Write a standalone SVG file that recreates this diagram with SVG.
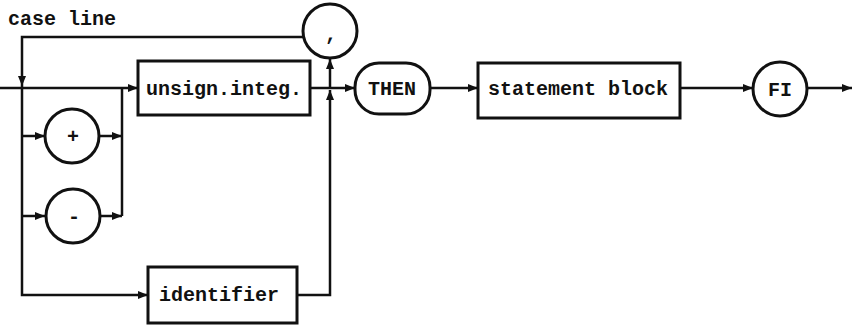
<svg xmlns="http://www.w3.org/2000/svg" width="858" height="329" viewBox="0 0 858 329">
<style>
.ln{fill:none;stroke:#111;stroke-width:2.5}
.nd{fill:#fff;stroke:#111;stroke-width:3}
.t{font-family:"Liberation Mono","DejaVu Sans Mono",monospace;font-weight:bold;font-size:20px;fill:#111}
.m{text-anchor:middle}
</style>
<defs>
<marker id="a" markerUnits="userSpaceOnUse" markerWidth="12" markerHeight="10" refX="10" refY="5" orient="auto">
<path d="M0 1 L10 5 L0 9 Z" fill="#111"/>
</marker>
</defs>
<rect width="858" height="329" fill="#fff"/>
<text class="t" x="8" y="25">case line</text>
<g id="connectors">
<path class="ln" d="M0 88 H138" marker-end="url(#a)"/>
<path class="ln" d="M310 88 H355" marker-end="url(#a)"/>
<path class="ln" d="M430 88 H478" marker-end="url(#a)"/>
<path class="ln" d="M680 88 H753" marker-end="url(#a)"/>
<path class="ln" d="M807 88 H852" marker-end="url(#a)"/>
<path class="ln" d="M304 37 H22 V86" marker-end="url(#a)"/>
<path class="ln" d="M22 86 V295 H148" marker-end="url(#a)"/>
<path class="ln" d="M22 136 H45" marker-end="url(#a)"/>
<path class="ln" d="M99 136 H122" marker-end="url(#a)"/>
<path class="ln" d="M22 216 H45" marker-end="url(#a)"/>
<path class="ln" d="M100 216 H122" marker-end="url(#a)"/>
<path class="ln" d="M122 216 V88"/>
<path class="ln" d="M297 295 H330 V90" marker-end="url(#a)"/>
<path class="ln" d="M330 88 V59" marker-end="url(#a)"/>
</g>
<g id="comma"><circle class="nd" cx="330" cy="31" r="27"/><text class="t m" x="331" y="40">,</text></g>
<g id="unsign"><rect class="nd" x="138" y="61" width="172" height="54"/><text class="t m" x="224" y="95">unsign.integ.</text></g>
<g id="plus"><circle class="nd" cx="72" cy="136" r="27"/><text class="t m" x="73" y="143">+</text></g>
<g id="minus"><circle class="nd" cx="73" cy="216" r="27"/><text class="t m" x="74" y="223">-</text></g>
<g id="identifier"><rect class="nd" x="148" y="267" width="149" height="56"/><text class="t m" x="219" y="301">identifier</text></g>
<g id="then"><rect class="nd" x="355" y="63" width="75" height="51" rx="24"/><text class="t m" x="392" y="95">THEN</text></g>
<g id="stmt"><rect class="nd" x="478" y="63" width="202" height="55"/><text class="t m" x="578" y="95">statement block</text></g>
<g id="fi"><circle class="nd" cx="780" cy="89" r="27"/><text class="t m" x="780" y="96">FI</text></g>
</svg>
